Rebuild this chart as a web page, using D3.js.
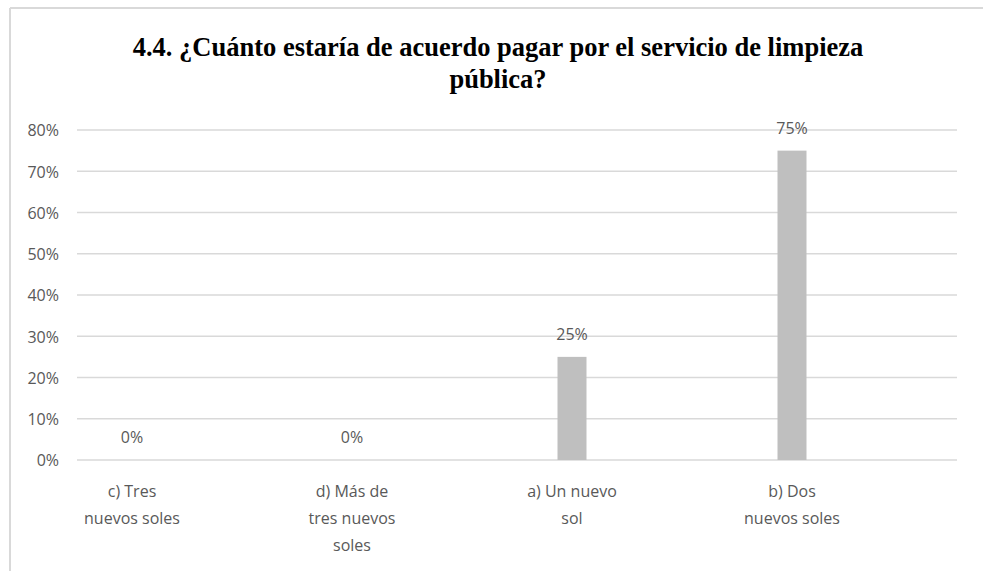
<!DOCTYPE html>
<html>
<head>
<meta charset="utf-8">
<script src="https://cdn.jsdelivr.net/npm/d3@7"></script>
<style>
  html, body { margin: 0; padding: 0; background: #fff; }
  svg { display: block; }
</style>
</head>
<body>
<svg id="chart" width="983" height="571"></svg>
<script>
// Survey answers: how much would respondents pay for public cleaning service
const titleLines = ["4.4. ¿Cuánto estaría de acuerdo pagar por el servicio de limpieza", "pública?"];
const categories = ["c) Tres nuevos soles", "d) Más de tres nuevos soles", "a) Un nuevo sol", "b) Dos nuevos soles"];
const categoryLines = [["c) Tres", "nuevos soles"], ["d) Más de", "tres nuevos", "soles"], ["a) Un nuevo", "sol"], ["b) Dos", "nuevos soles"]];
const values = [0, 0, 25, 75];
const yTicks = [0, 10, 20, 30, 40, 50, 60, 70, 80];

const svg = d3.select("#chart");
const W = 983, H = 571;
const textColor = "#595959";
const gridColor = "#d9d9d9";
const barColor = "#bfbfbf";
const sansFont = "'Open Sans', sans-serif";

// chart frame (top and left edges)
svg.append("line").attr("x1", 10).attr("x2", W).attr("y1", 8).attr("y2", 8)
  .attr("stroke", gridColor).attr("stroke-width", 2);
svg.append("line").attr("x1", 10).attr("x2", 10).attr("y1", 8).attr("y2", H)
  .attr("stroke", gridColor).attr("stroke-width", 2);

// title: condensed bold serif, first line spans 731px
const titleCx = 498, titleWidth = 731;
const title = svg.append("g");
const titleText = titleLines.map((t, i) => title.append("text")
  .attr("x", 0).attr("y", 0)
  .attr("text-anchor", "middle")
  .attr("font-family", "'Liberation Serif', 'Times New Roman', serif")
  .attr("font-weight", "bold")
  .attr("font-size", 28)
  .attr("fill", "#000")
  .text(t));
const sx = Math.min(1, titleWidth / titleText[0].node().getComputedTextLength());
titleText.forEach((el, i) => el.attr("transform", `translate(${titleCx},${56 + i * 32}) scale(${sx},1)`));

// scales
const plotLeft = 77, plotRight = 957;
const y = d3.scaleLinear().domain([0, 80]).range([460, 130]);
const x = d3.scalePoint().domain(categories).range([132, 792]);
const barW = 29;

// gridlines
svg.append("g").selectAll("line").data(yTicks).join("line")
  .attr("x1", plotLeft).attr("x2", plotRight)
  .attr("y1", d => y(d)).attr("y2", d => y(d))
  .attr("stroke", gridColor).attr("stroke-width", 1.3);

// y axis labels
const yAxis = d3.axisLeft(y).tickValues(yTicks).tickFormat(d => d + "%").tickSize(0).tickPadding(0);
const yg = svg.append("g").attr("transform", "translate(59,0)").call(yAxis);
yg.select(".domain").remove();
yg.selectAll("text")
  .attr("font-family", sansFont).attr("font-size", 16)
  .attr("fill", textColor).attr("dy", "0.36em");

// bars
svg.append("g").selectAll("rect").data(values).join("rect")
  .attr("x", (d, i) => x(categories[i]) - barW / 2)
  .attr("y", d => y(d))
  .attr("width", barW)
  .attr("height", d => y(0) - y(d))
  .attr("fill", barColor);

// value labels
svg.append("g").selectAll("text").data(values).join("text")
  .attr("x", (d, i) => x(categories[i]))
  .attr("y", d => y(d) - 17)
  .attr("text-anchor", "middle")
  .attr("font-family", sansFont).attr("font-size", 16)
  .attr("fill", textColor)
  .text(d => d + "%");

// category labels (wrapped)
const cat = svg.append("g").selectAll("text").data(categories).join("text")
  .attr("text-anchor", "middle")
  .attr("font-family", sansFont).attr("font-size", 16)
  .attr("fill", textColor);
cat.each(function(c, i) {
  d3.select(this).selectAll("tspan").data(categoryLines[i]).join("tspan")
    .attr("x", x(c))
    .attr("y", (t, j) => 497 + j * 27)
    .text(t => t);
});
</script>
</body>
</html>
